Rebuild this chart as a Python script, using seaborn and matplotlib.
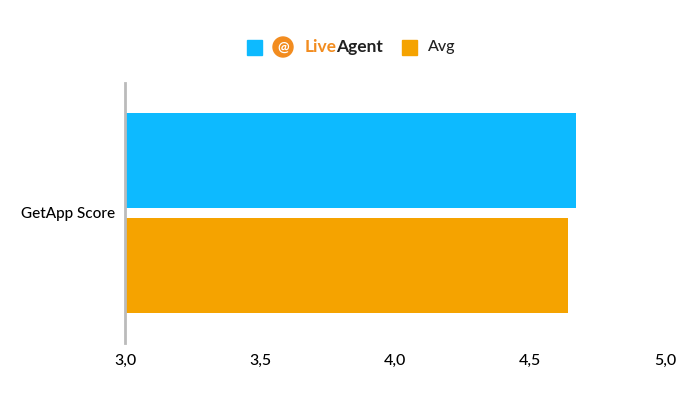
import matplotlib
matplotlib.use("Agg")
import matplotlib.pyplot as plt
import seaborn as sns
import pandas as pd
from matplotlib.patches import Rectangle, Ellipse

categories = ["GetApp Score"]
series = ["LiveAgent", "Avg"]
values = [4.67, 4.64]
colors = ["#0dbaff", "#f5a300"]
xticks = [3.0, 3.5, 4.0, 4.5, 5.0]
xticklabels = ["3,0", "3,5", "4,0", "4,5", "5,0"]

df = pd.DataFrame({"cat": categories * 2, "series": series, "value": values})

plt.rcParams["font.family"] = "Lato"
fig = plt.figure(figsize=(7, 4.01), dpi=100)
ax = fig.add_axes([0.179, 0.145, 0.771, 0.648])
sns.barplot(data=df, y="cat", x="value", hue="series", palette=colors,
            orient="h", ax=ax, legend=False, width=0.84, gap=0.095, saturation=1)
ax.set_xlim(3, 5)
ax.set_ylim(0.52, -0.52)
ax.set_xticks(xticks)
ax.set_xticklabels(xticklabels, fontsize=11.5, fontweight="medium")
ax.set_yticks([0])
ax.set_yticklabels(categories, fontsize=11, fontweight="medium")
ax.tick_params(axis="y", length=0, pad=7)
ax.tick_params(axis="x", length=0, pad=8)
ax.set_xlabel(""); ax.set_ylabel("")
for s in ["top", "right", "bottom"]:
    ax.spines[s].set_visible(False)
ax.spines["left"].set_color("#bbbbbb")
ax.spines["left"].set_linewidth(2)

# legend
fig.patches.append(Rectangle((247/700, 1-55/401), 15/700, 15/401, color=colors[0], transform=fig.transFigure))
fig.patches.append(Ellipse((283/700, 1-47/401), 20/700, 20/401, color="#f28c1f", transform=fig.transFigure))
fig.text(283/700, 1-47.5/401, "@", color="white", fontsize=10, ha="center", va="center", fontweight="bold")
fig.text(305/700, 1-47/401, "Live", color="#f28c1f", fontsize=12.5, ha="left", va="center", fontweight="bold")
fig.text(336/700, 1-47/401, "Agent", color="#222222", fontsize=12.5, ha="left", va="center", fontweight="bold")
fig.patches.append(Rectangle((402/700, 1-55/401), 15/700, 15/401, color=colors[1], transform=fig.transFigure))
fig.text(428/700, 1-47/401, "Avg", color="#222222", fontsize=11.5, ha="left", va="center", fontweight="medium")

fig.savefig("out.png", dpi=100)
